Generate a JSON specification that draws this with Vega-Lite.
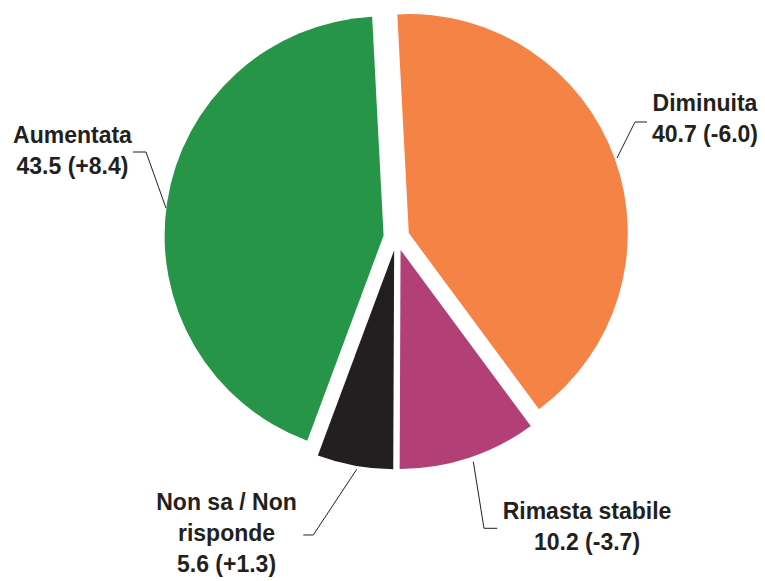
{
  "$schema": "https://vega.github.io/schema/vega-lite/v6.json",
  "width": 737,
  "height": 475,
  "autosize": {"type": "none"},
  "padding": {"left": 28, "top": 0, "right": 0, "bottom": 106},
  "background": "white",
  "config": {"view": {"stroke": null}},
  "data": {"values": [
    {"cat": "Diminuita", "value": 40.7, "change": -6.0, "label": "Diminuita\n40.7 (-6.0)"},
    {"cat": "Rimasta stabile", "value": 10.2, "change": -3.7, "label": "Rimasta stabile\n10.2 (-3.7)"},
    {"cat": "Non sa / Non risponde", "value": 5.6, "change": 1.3, "label": "Non sa / Non\nrisponde\n5.6 (+1.3)"},
    {"cat": "Aumentata", "value": 43.5, "change": 8.4, "label": "Aumentata\n43.5 (+8.4)"}
  ]},
  "transform": [
    {"stack": "value", "groupby": [], "as": ["start", "end"]}
  ],
  "layer": [
    {
      "transform": [{"filter": "datum.cat === 'Diminuita'"}],
      "layer": [
        {"mark": {"type": "arc", "radius": 219, "xOffset": 12.29, "yOffset": -4.41},
         "encoding": {
           "theta": {"field": "start", "type": "quantitative", "stack": null, "scale": {"domain": [0, 100], "range": [-0.05236, 6.23083]}},
           "theta2": {"field": "end"},
           "color": {"field": "cat", "type": "nominal", "legend": null, "scale": {"domain": ["Diminuita", "Rimasta stabile", "Non sa / Non risponde", "Aumentata"], "range": ["#F58345", "#B23F76", "#231F20", "#279548"]}}
         }},
        {"mark": {"type": "text", "radius": 336.1, "thetaOffset": 1.2148, "align": "center", "baseline": "middle", "lineBreak": "\n", "lineHeight": 31, "font": "Liberation Sans", "fontWeight": "bold", "fontSize": 23, "color": "#231F20"},
         "encoding": {
           "theta": {"field": "start", "type": "quantitative", "stack": null, "scale": {"domain": [0, 100], "range": [-0.05236, 6.23083]}},
           "text": {"field": "label"}
         }},
        {"mark": {"type": "rule", "color": "#231F20", "strokeWidth": 1},
         "encoding": {
           "x": {"datum": 1.0068, "type": "quantitative", "axis": null, "scale": {"domain": [-1.6826, 1.6826], "nice": false, "zero": false}},
           "y": {"datum": 0.3630, "type": "quantitative", "axis": null, "scale": {"domain": [-1.0845, 1.0845], "nice": false, "zero": false}},
           "x2": {"datum": 1.0890}, "y2": {"datum": 0.5274}
         }},
        {"mark": {"type": "rule", "color": "#231F20", "strokeWidth": 1},
         "encoding": {
           "x": {"datum": 1.0890, "type": "quantitative", "axis": null, "scale": {"domain": [-1.6826, 1.6826], "nice": false, "zero": false}},
           "y": {"datum": 0.5274, "type": "quantitative", "axis": null, "scale": {"domain": [-1.0845, 1.0845], "nice": false, "zero": false}},
           "x2": {"datum": 1.1438}, "y2": {"datum": 0.5274}
         }}
      ]
    },
    {
      "transform": [{"filter": "datum.cat === 'Rimasta stabile'"}],
      "layer": [
        {"mark": {"type": "arc", "radius": 219, "xOffset": 4.06, "yOffset": 12.41},
         "encoding": {
           "theta": {"field": "start", "type": "quantitative", "stack": null, "scale": {"domain": [0, 100], "range": [-0.05236, 6.23083]}},
           "theta2": {"field": "end"},
           "color": {"field": "cat", "type": "nominal", "legend": null, "scale": {"domain": ["Diminuita", "Rimasta stabile", "Non sa / Non risponde", "Aumentata"], "range": ["#F58345", "#B23F76", "#231F20", "#279548"]}}
         }},
        {"mark": {"type": "text", "radius": 333.9, "thetaOffset": 0.0295, "align": "center", "baseline": "middle", "lineBreak": "\n", "lineHeight": 31, "font": "Liberation Sans", "fontWeight": "bold", "fontSize": 23, "color": "#231F20"},
         "encoding": {
           "theta": {"field": "start", "type": "quantitative", "stack": null, "scale": {"domain": [0, 100], "range": [-0.05236, 6.23083]}},
           "text": {"field": "label"}
         }},
        {"mark": {"type": "rule", "color": "#231F20", "strokeWidth": 1},
         "encoding": {
           "x": {"datum": 0.3507, "type": "quantitative", "axis": null, "scale": {"domain": [-1.6826, 1.6826], "nice": false, "zero": false}},
           "y": {"datum": -1.0237, "type": "quantitative", "axis": null, "scale": {"domain": [-1.0845, 1.0845], "nice": false, "zero": false}},
           "x2": {"datum": 0.3995}, "y2": {"datum": -1.3279}
         }},
        {"mark": {"type": "rule", "color": "#231F20", "strokeWidth": 1},
         "encoding": {
           "x": {"datum": 0.3995, "type": "quantitative", "axis": null, "scale": {"domain": [-1.6826, 1.6826], "nice": false, "zero": false}},
           "y": {"datum": -1.3279, "type": "quantitative", "axis": null, "scale": {"domain": [-1.0845, 1.0845], "nice": false, "zero": false}},
           "x2": {"datum": 0.4603}, "y2": {"datum": -1.3279}
         }}
      ]
    },
    {
      "transform": [{"filter": "datum.cat === 'Non sa / Non risponde'"}],
      "layer": [
        {"mark": {"type": "arc", "radius": 219, "xOffset": -2.34, "yOffset": 12.85},
         "encoding": {
           "theta": {"field": "start", "type": "quantitative", "stack": null, "scale": {"domain": [0, 100], "range": [-0.05236, 6.23083]}},
           "theta2": {"field": "end"},
           "color": {"field": "cat", "type": "nominal", "legend": null, "scale": {"domain": ["Diminuita", "Rimasta stabile", "Non sa / Non risponde", "Aumentata"], "range": ["#F58345", "#B23F76", "#231F20", "#279548"]}}
         }},
        {"mark": {"type": "text", "radius": 315.0, "thetaOffset": 0.5658, "align": "center", "baseline": "middle", "lineBreak": "\n", "lineHeight": 31, "font": "Liberation Sans", "fontWeight": "bold", "fontSize": 23, "color": "#231F20"},
         "encoding": {
           "theta": {"field": "start", "type": "quantitative", "stack": null, "scale": {"domain": [0, 100], "range": [-0.05236, 6.23083]}},
           "text": {"field": "label"}
         }},
        {"mark": {"type": "rule", "color": "#231F20", "strokeWidth": 1},
         "encoding": {
           "x": {"datum": -0.1817, "type": "quantitative", "axis": null, "scale": {"domain": [-1.6826, 1.6826], "nice": false, "zero": false}},
           "y": {"datum": -1.0584, "type": "quantitative", "axis": null, "scale": {"domain": [-1.0845, 1.0845], "nice": false, "zero": false}},
           "x2": {"datum": -0.3799}, "y2": {"datum": -1.3584}
         }},
        {"mark": {"type": "rule", "color": "#231F20", "strokeWidth": 1},
         "encoding": {
           "x": {"datum": -0.3799, "type": "quantitative", "axis": null, "scale": {"domain": [-1.6826, 1.6826], "nice": false, "zero": false}},
           "y": {"datum": -1.3584, "type": "quantitative", "axis": null, "scale": {"domain": [-1.0845, 1.0845], "nice": false, "zero": false}},
           "x2": {"datum": -0.4256}, "y2": {"datum": -1.3584}
         }}
      ]
    },
    {
      "transform": [{"filter": "datum.cat === 'Aumentata'"}],
      "layer": [
        {"mark": {"type": "arc", "radius": 219, "xOffset": -12.91, "yOffset": -1.98},
         "encoding": {
           "theta": {"field": "start", "type": "quantitative", "stack": null, "scale": {"domain": [0, 100], "range": [-0.05236, 6.23083]}},
           "theta2": {"field": "end"},
           "color": {"field": "cat", "type": "nominal", "legend": null, "scale": {"domain": ["Diminuita", "Rimasta stabile", "Non sa / Non risponde", "Aumentata"], "range": ["#F58345", "#B23F76", "#231F20", "#279548"]}}
         }},
        {"mark": {"type": "text", "radius": 339.7, "thetaOffset": 1.5197, "align": "center", "baseline": "middle", "lineBreak": "\n", "lineHeight": 31, "font": "Liberation Sans", "fontWeight": "bold", "fontSize": 23, "color": "#231F20"},
         "encoding": {
           "theta": {"field": "start", "type": "quantitative", "stack": null, "scale": {"domain": [0, 100], "range": [-0.05236, 6.23083]}},
           "text": {"field": "label"}
         }},
        {"mark": {"type": "rule", "color": "#231F20", "strokeWidth": 1},
         "encoding": {
           "x": {"datum": -1.0525, "type": "quantitative", "axis": null, "scale": {"domain": [-1.6826, 1.6826], "nice": false, "zero": false}},
           "y": {"datum": 0.1347, "type": "quantitative", "axis": null, "scale": {"domain": [-1.0845, 1.0845], "nice": false, "zero": false}},
           "x2": {"datum": -1.1438}, "y2": {"datum": 0.3904}
         }},
        {"mark": {"type": "rule", "color": "#231F20", "strokeWidth": 1},
         "encoding": {
           "x": {"datum": -1.1438, "type": "quantitative", "axis": null, "scale": {"domain": [-1.6826, 1.6826], "nice": false, "zero": false}},
           "y": {"datum": 0.3904, "type": "quantitative", "axis": null, "scale": {"domain": [-1.0845, 1.0845], "nice": false, "zero": false}},
           "x2": {"datum": -1.2032}, "y2": {"datum": 0.3904}
         }}
      ]
    }
  ]
}
